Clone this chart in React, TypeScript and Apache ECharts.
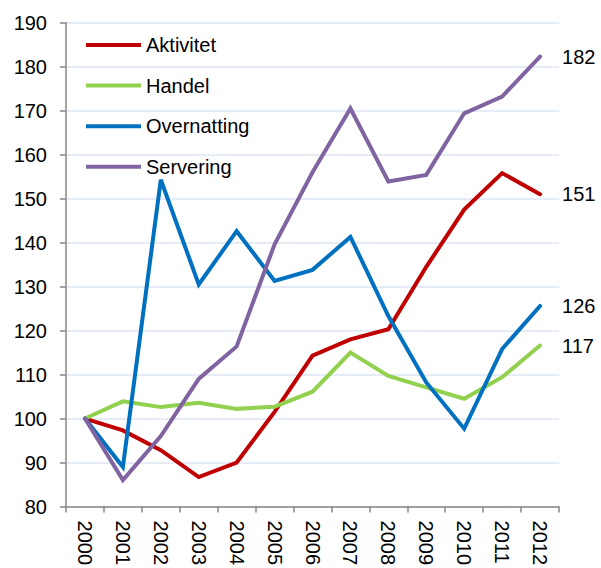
import React, { useEffect, useRef } from "react";
import * as echarts from "echarts";

const years = ["2000","2001","2002","2003","2004","2005","2006","2007","2008","2009","2010","2011","2012"];
const aktivitet = [100, 97.3, 92.8, 86.7, 90, 101.5, 114.3, 118, 120.3, 134.5, 147.5, 155.8, 151];
const handel = [100, 103.9, 102.6, 103.6, 102.2, 102.7, 106.1, 115, 109.7, 107.1, 104.5, 109.4, 116.6];
const overnatting = [100, 89, 154.3, 130.5, 142.6, 131.3, 133.8, 141.3, 123.3, 108.2, 97.7, 115.8, 125.6];
const servering = [100, 86, 96, 109, 116.4, 139.6, 156, 170.5, 153.9, 155.4, 169.4, 173.2, 182.3];

const seriesDefs = [
  { name: "Aktivitet", data: aktivitet, color: "#c00000" },
  { name: "Handel", data: handel, color: "#92d050" },
  { name: "Overnatting", data: overnatting, color: "#0070c0" },
  { name: "Servering", data: servering, color: "#8064a2" },
];

const font = "Arial, 'Liberation Sans', sans-serif";
const fs = 20;

export default function App() {
  const ref = useRef<HTMLDivElement>(null);
  useEffect(() => {
    const chart = echarts.init(ref.current!, undefined, { renderer: "svg" });
    chart.setOption({
      animation: false,
      textStyle: { fontFamily: font },
      grid: { left: 66, right: 42, top: 22.7, bottom: 60, containLabel: false },
      legend: {
        orient: "vertical",
        left: 86,
        top: 35,
        padding: 0,
        itemWidth: 55,
        itemHeight: 20,
        itemGap: 20.6,
        icon: "path://M0,8 L55,8 L55,12 L0,12 Z",
        textStyle: { fontSize: fs, color: "#000", fontFamily: font },
        data: seriesDefs.map((s) => s.name),
      },
      xAxis: {
        type: "category",
        data: years,
        boundaryGap: true,
        axisLine: { lineStyle: { color: "#868686", width: 1.5 } },
        axisTick: { show: true, length: 6, lineStyle: { color: "#868686", width: 1.5 } },
        axisLabel: { rotate: -90, fontSize: fs, color: "#000", fontFamily: font, margin: 14, interval: 0 },
      },
      yAxis: {
        type: "value",
        min: 80,
        max: 190,
        interval: 10,
        axisLine: { show: true, lineStyle: { color: "#868686", width: 1.5 } },
        axisTick: { show: true, length: 6, lineStyle: { color: "#868686", width: 1.5 } },
        axisLabel: { fontSize: fs, color: "#000", fontFamily: font, margin: 19 },
        splitLine: { show: true, lineStyle: { color: "#dce6f2", width: 1.5 } },
      },
      series: seriesDefs.map((s) => ({
        name: s.name,
        type: "line",
        data: s.data,
        symbol: "none",
        color: s.color,
        lineStyle: { width: 4, color: s.color, cap: "round", join: "miter" },
        endLabel: {
          show: true,
          formatter: (p: any) => String(Math.round(p.value)),
          fontSize: fs,
          color: "#000",
          fontFamily: font,
          distance: 22,
        },
      })),
    });
    return () => chart.dispose();
  }, []);
  return <div ref={ref} style={{ position: "absolute", left: 0, top: 0, width: 601, height: 568 }} />;
}
